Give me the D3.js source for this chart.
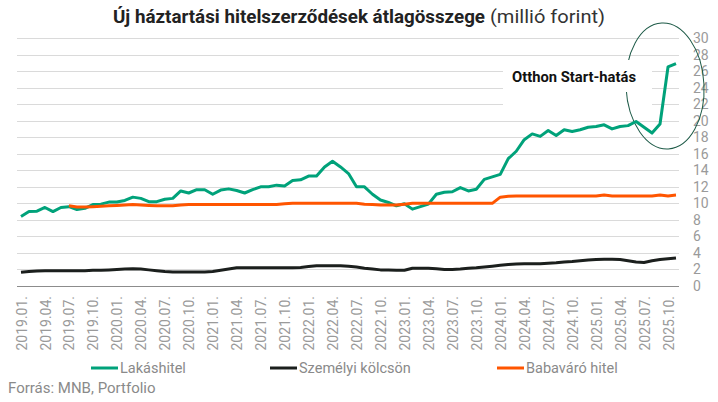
<!DOCTYPE html>
<html>
<head>
<meta charset="utf-8">
<script src="https://cdn.jsdelivr.net/npm/d3@7/dist/d3.min.js"></script>
<style>
	html, body { margin: 0; padding: 0; background: #fff; }
	svg { display: block; font-family: Roboto, "Noto Sans", sans-serif; }
</style>
</head>
<body>
<div class="container"></div>
<script>
	"use strict";

	// havi adatok 2019.01. - 2025.11.
	var firstMonth = new Date(2019, 0, 1);
	var lastMonth = new Date(2025, 10, 1);

	var tickLabels = ["2019.01.", "2019.04.", "2019.07.", "2019.10.", "2020.01.", "2020.04.", "2020.07.", "2020.10.",
		"2021.01.", "2021.04.", "2021.07.", "2021.10.", "2022.01.", "2022.04.", "2022.07.", "2022.10.",
		"2023.01.", "2023.04.", "2023.07.", "2023.10.", "2024.01.", "2024.04.", "2024.07.", "2024.10.",
		"2025.01.", "2025.04.", "2025.07.", "2025.10."];

	var yTicks = [0, 2, 4, 6, 8, 10, 12, 14, 16, 18, 20, 22, 24, 26, 28, 30];

	var lakashitel = [8.4, 9.0, 9.05, 9.5, 9.0, 9.5, 9.6, 9.25, 9.4, 9.85, 9.9, 10.15,
		10.15, 10.35, 10.75, 10.6, 10.2, 10.2, 10.5, 10.6, 11.5, 11.25, 11.65, 11.65,
		11.1, 11.6, 11.75, 11.55, 11.25, 11.65, 12.0, 12.0, 12.2, 12.1, 12.75, 12.85,
		13.3, 13.3, 14.4, 15.1, 14.4, 13.6, 12.0, 12.0, 11.1, 10.4, 10.1, 9.7,
		9.95, 9.3, 9.6, 9.9, 11.1, 11.35, 11.4, 11.9, 11.5, 11.7, 12.9, 13.2,
		13.5, 15.4, 16.3, 17.7, 18.4, 18.1, 18.8, 18.2, 18.9, 18.7, 18.9, 19.2,
		19.3, 19.5, 19.0, 19.3, 19.4, 19.9, 19.2, 18.5, 19.6, 26.5, 26.9];

	var szemelyi = [1.65, 1.75, 1.8, 1.85, 1.85, 1.85, 1.85, 1.85, 1.85, 1.9, 1.9, 1.95,
		2.0, 2.05, 2.1, 2.05, 1.95, 1.85, 1.75, 1.7, 1.7, 1.7, 1.7, 1.7,
		1.75, 1.9, 2.05, 2.2, 2.2, 2.2, 2.2, 2.2, 2.2, 2.2, 2.2, 2.25,
		2.35, 2.45, 2.45, 2.45, 2.45, 2.4, 2.3, 2.15, 2.05, 1.95, 1.95, 1.9,
		1.9, 2.15, 2.15, 2.15, 2.1, 2.0, 2.0, 2.05, 2.15, 2.2, 2.3, 2.4,
		2.5, 2.6, 2.65, 2.7, 2.7, 2.7, 2.75, 2.8, 2.9, 2.95, 3.05, 3.15,
		3.2, 3.25, 3.25, 3.2, 3.05, 2.9, 2.85, 3.05, 3.2, 3.3, 3.4];

	var babavaro = [null, null, null, null, null, null, 9.7, 9.55, 9.55, 9.6, 9.65, 9.7,
		9.75, 9.8, 9.85, 9.8, 9.75, 9.7, 9.7, 9.7, 9.8, 9.85, 9.85, 9.85,
		9.85, 9.85, 9.85, 9.85, 9.85, 9.85, 9.85, 9.85, 9.85, 9.95, 10.0, 10.0,
		10.0, 10.0, 10.0, 10.0, 10.0, 10.0, 10.0, 9.9, 9.85, 9.8, 9.8, 9.8,
		9.9, 10.0, 10.0, 10.0, 10.0, 10.0, 10.0, 10.0, 10.0, 10.0, 10.0, 10.0,
		10.75, 10.85, 10.9, 10.9, 10.9, 10.9, 10.9, 10.9, 10.9, 10.9, 10.9, 10.9,
		10.9, 11.0, 10.9, 10.9, 10.9, 10.9, 10.9, 10.9, 11.0, 10.9, 11.0];

	var seriesNames = ["Lakáshitel", "Személyi kölcsön", "Babaváró hitel"];
	var seriesColors = ["#00a27a", "#1b1f1d", "#ff5500"];

	var iWidth = 718;
	var iHeight = 402;

	var months = d3.timeMonth.range(firstMonth, d3.timeMonth.offset(lastMonth, 1));
	var fmt = d3.timeFormat("%Y.%m.");

	var oSVG = d3.select(".container")
		.append("svg")
		.attr("width", iWidth)
		.attr("height", iHeight);

	var x = d3.scalePoint()
		.domain(months.map(fmt))
		.range([21, 676]);

	var y = d3.scaleLinear()
		.domain([0, 30])
		.range([286, 38]);

	// racsvonalak
	oSVG.append("g")
		.selectAll("line")
		.data(yTicks.filter(function(d) { return d > 0; }))
		.enter()
		.append("line")
		.attr("x1", 17)
		.attr("x2", 679)
		.attr("y1", function(d) { return Math.round(y(d)) + 0.5; })
		.attr("y2", function(d) { return Math.round(y(d)) + 0.5; })
		.attr("stroke", "#dadada")
		.attr("stroke-width", 1);

	oSVG.append("line")
		.attr("x1", 17)
		.attr("x2", 679)
		.attr("y1", Math.round(y(0)) + 0.5)
		.attr("y2", Math.round(y(0)) + 0.5)
		.attr("stroke", "#8c8c8c")
		.attr("stroke-width", 1);

	// jobb oldali tengely
	var yAxis = d3.axisRight(y).tickValues(yTicks).tickSize(0).tickPadding(0);
	var gY = oSVG.append("g")
		.attr("transform", "translate(693,0)")
		.call(yAxis);
	gY.select(".domain").remove();
	gY.selectAll("text")
		.attr("x", 0)
		.attr("fill", "#9a9a9a")
		.style("font-size", "14px")
		.style("font-family", "Roboto, sans-serif");

	// also tengely feliratok
	var xAxis = d3.axisBottom(x).tickValues(tickLabels).tickSize(0).tickPadding(0);
	var gX = oSVG.append("g")
		.attr("transform", "translate(0,296)")
		.call(xAxis);
	gX.select(".domain").remove();
	gX.selectAll("text")
		.attr("transform", "rotate(-90)")
		.attr("text-anchor", "end")
		.attr("x", 0)
		.attr("y", 0)
		.attr("dy", "0.36em")
		.attr("fill", "#9a9a9a")
		.style("font-size", "14px")
		.style("font-family", "Roboto, sans-serif");

	// annotacio hattere
	oSVG.append("rect")
		.attr("x", 503).attr("y", 60)
		.attr("width", 149).attr("height", 48)
		.attr("fill", "#fff");

	oSVG.append("ellipse")
		.attr("cx", 665).attr("cy", 86)
		.attr("rx", 39).attr("ry", 63)
		.attr("transform", "rotate(-3,665,86)")
		.attr("fill", "none")
		.attr("stroke", "#1d5a47")
		.attr("stroke-width", 1);

	oSVG.append("rect")
		.attr("x", 503).attr("y", 60)
		.attr("width", 142).attr("height", 32)
		.attr("fill", "#fff");

	oSVG.append("text")
		.attr("x", 512).attr("y", 82)
		.attr("textLength", 124)
		.attr("lengthAdjust", "spacingAndGlyphs")
		.style("font-size", "15px")
		.style("font-weight", "bold")
		.attr("fill", "#111")
		.text("Otthon Start-hatás");

	// vonalak
	var aSeries = [lakashitel, szemelyi, babavaro];
	var line = d3.line()
		.defined(function(d) { return d != null; })
		.x(function(d, i) { return x(fmt(months[i])); })
		.y(function(d) { return y(d); });

	oSVG.append("g")
		.selectAll("path")
		.data(aSeries)
		.enter()
		.append("path")
		.attr("d", line)
		.attr("fill", "none")
		.attr("stroke", function(d, i) { return seriesColors[i]; })
		.attr("stroke-width", 3)
		.attr("stroke-linejoin", "round");

	// cim
	oSVG.append("text")
		.attr("x", 113).attr("y", 23)
		.attr("textLength", 372)
		.attr("lengthAdjust", "spacingAndGlyphs")
		.style("font-size", "19px")
		.style("font-weight", "bold")
		.attr("fill", "#222")
		.text("Új háztartási hitelszerződések átlagösszege");

	oSVG.append("text")
		.attr("x", 490).attr("y", 23)
		.attr("textLength", 115)
		.attr("lengthAdjust", "spacingAndGlyphs")
		.style("font-size", "19px")
		.attr("fill", "#333")
		.text("(millió forint)");

	// jelmagyarazat
	var legendX = [91, 270, 497];
	var legend = oSVG.append("g")
		.selectAll("g")
		.data(seriesNames)
		.enter()
		.append("g")
		.attr("transform", function(d, i) { return "translate(" + legendX[i] + ",368)"; });

	legend.append("line")
		.attr("x1", 0).attr("x2", 27)
		.attr("y1", 0).attr("y2", 0)
		.attr("stroke", function(d, i) { return seriesColors[i]; })
		.attr("stroke-width", 3);

	legend.append("text")
		.attr("x", 29).attr("y", 5)
		.style("font-size", "14.5px")
		.attr("fill", "#8a8a8a")
		.text(function(d) { return d; });

	oSVG.append("text")
		.attr("x", 8).attr("y", 393)
		.style("font-size", "15px")
		.attr("fill", "#8a8a8a")
		.text("Forrás: MNB, Portfolio");
</script>
</body>
</html>
